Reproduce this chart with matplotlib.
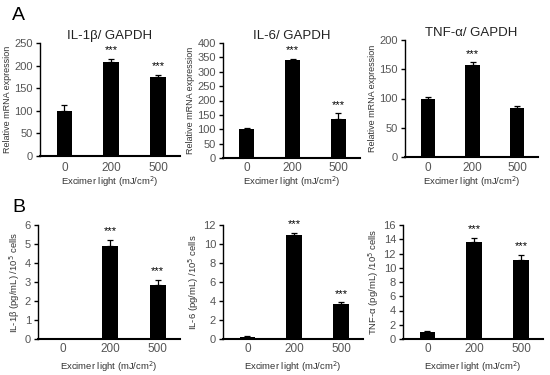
import matplotlib
matplotlib.use("Agg")
import matplotlib.pyplot as plt

plt.rcParams['font.family'] = ['Liberation Sans', 'DejaVu Sans']

categories = ["0", "200", "500"]

a_titles = ["IL-1β/ GAPDH", "IL-6/ GAPDH", "TNF-α/ GAPDH"]
a_values = [[100, 207, 174], [100, 342, 137], [100, 157, 83]]
a_errors = [[12, 8, 6], [3, 4, 18], [2, 5, 5]]
a_stars = [["", "***", "***"], ["", "***", "***"], ["", "***", ""]]
a_ylims = [250, 400, 200]
a_steps = [50, 50, 50]

b_ylabels = ["IL-1β (pg/mL) /10$^5$ cells", "IL-6 (pg/mL) /10$^5$ cells", "TNF-α (pg/mL) /10$^5$ cells"]
b_values = [[0, 4.92, 2.82], [0.25, 10.9, 3.65], [1.05, 13.65, 11.15]]
b_errors = [[0, 0.3, 0.3], [0.05, 0.3, 0.2], [0.1, 0.55, 0.7]]
b_stars = [["", "***", "***"], ["", "***", "***"], ["", "***", "***"]]
b_ylims = [6, 12, 16]
b_steps = [1, 2, 2]

W, H = 550, 375
fig = plt.figure(figsize=(5.5, 3.75), dpi=100)

def box(l, t, r, b):
    return (l, t, r, b)

a_boxes = [box(40, 43, 180, 156), box(223, 43, 360, 158), box(405, 40, 538, 157)]
b_boxes = [box(38, 225, 180, 339), box(223, 225, 363, 339), box(403, 225, 543, 339)]

gray = "#555555"

def draw(bx, vals, errs, stars, ymax, step, ylabel, title, tick_y, xlabel_y, ylabel_size):
    l, t, r, b = bx
    ax = fig.add_axes([l / W, 1 - b / H, (r - l) / W, (b - t) / H])
    hpx = b - t
    x = list(range(len(categories)))
    ax.bar(x, vals, width=0.33, color="black", zorder=2)
    ax.errorbar(x, vals, yerr=[[0]*len(errs), errs], fmt="none", ecolor="black",
                elinewidth=0.9, capsize=2.5, capthick=0.9, zorder=3)
    for xi, v, e, s in zip(x, vals, errs, stars):
        if s:
            ax.text(xi, v + e + ymax * 0.03, s, ha="center", va="bottom", fontsize=8, color="black")
    ax.set_xlim(-0.52, 2.47)
    ax.set_ylim(0, ymax)
    ticks = []
    tv = 0
    while tv <= ymax + 1e-9:
        ticks.append(tv)
        tv += step
    ax.set_yticks(ticks)
    ax.set_yticklabels([f"{v:g}" for v in ticks])
    ax.set_xticks([])
    for xi, c in zip(x, categories):
        ax.text(xi, -(tick_y - b) / hpx, c, transform=ax.get_xaxis_transform(),
                ha="center", va="center", fontsize=8.5, color=gray)
    ax.spines['top'].set_visible(False)
    ax.spines['right'].set_visible(False)
    ax.spines['left'].set_linewidth(1.0)
    ax.spines['bottom'].set_linewidth(1.5)
    ax.tick_params(axis='y', direction='out', length=3, width=1.0, labelsize=8,
                   color='black', labelcolor=gray, pad=2)
    ax.text(0.5, -(xlabel_y - b) / hpx, "Excimer light (mJ/cm$^2$)", transform=ax.transAxes,
            ha="center", va="center", fontsize=6.8, color="#333333")
    ax.set_ylabel(ylabel, fontsize=ylabel_size, color="#333333", labelpad=2)
    if title:
        ax.set_title(title, fontsize=9.5, color="#222222", pad=3)
    return ax

for i in range(3):
    draw(a_boxes[i], a_values[i], a_errors[i], a_stars[i], a_ylims[i], a_steps[i],
         "Relative mRNA expression", a_titles[i], 168, 182, 6.5)

for i in range(3):
    draw(b_boxes[i], b_values[i], b_errors[i], b_stars[i], b_ylims[i], b_steps[i],
         b_ylabels[i], None, 349, 367, 6.8)

fig.text(12 / W, 1 - 15 / H, "A", fontsize=14, va="center", ha="left")
fig.text(12 / W, 1 - 208 / H, "B", fontsize=14, va="center", ha="left")

fig.savefig("out.png", dpi=100)
